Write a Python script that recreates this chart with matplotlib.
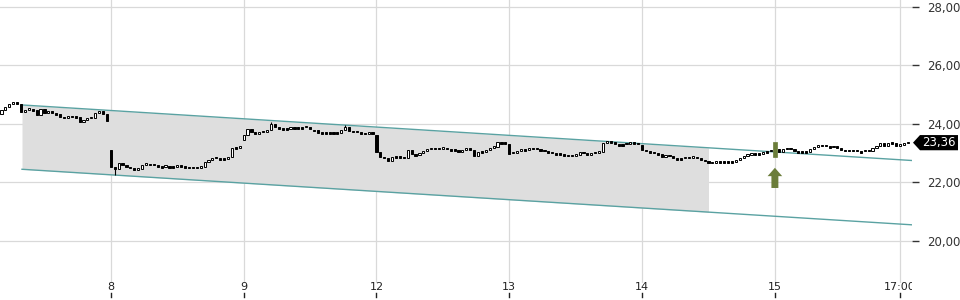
import matplotlib
matplotlib.use("Agg")
import matplotlib.pyplot as plt
from matplotlib.patches import Rectangle, Polygon
from matplotlib.transforms import blended_transform_factory, Bbox, TransformedBbox

# 15-minute candles, closes per trading day (day 7 is partial)
day7 = [24.48, 24.58, 24.68, 24.75, 24.68, 24.41, 24.48, 24.51, 24.48, 24.31,
        24.51, 24.38, 24.44, 24.38, 24.34, 24.24, 24.21, 24.27, 24.26, 24.24,
        24.07, 24.14, 24.17, 24.21, 24.38, 24.44, 24.34, 24.10]
day8 = [22.53, 22.46, 22.67, 22.60, 22.53, 22.50, 22.43, 22.46, 22.60, 22.63,
        22.62, 22.60, 22.53, 22.53, 22.56, 22.53, 22.53, 22.56, 22.56, 22.53,
        22.50, 22.50, 22.50, 22.53, 22.70, 22.77, 22.84, 22.84, 22.80, 22.80,
        22.87, 23.18, 23.18, 23.21]
day9 = [23.62, 23.83, 23.73, 23.66, 23.73, 23.73, 23.79, 24.00, 23.90, 23.86,
        23.83, 23.83, 23.86, 23.86, 23.86, 23.86, 23.90, 23.83, 23.79, 23.69,
        23.69, 23.69, 23.69, 23.69, 23.69, 23.79, 23.90, 23.76, 23.73, 23.73,
        23.69, 23.66, 23.69, 23.69]
day12 = [23.04, 22.87, 22.84, 22.74, 22.87, 22.87, 22.87, 22.84, 23.11, 22.97,
         22.94, 23.01, 23.08, 23.11, 23.15, 23.15, 23.15, 23.18, 23.15, 23.11,
         23.11, 23.04, 23.11, 23.18, 23.11, 22.91, 23.04, 23.04, 23.11, 23.18,
         23.21, 23.38, 23.35, 23.35]
day13 = [22.97, 23.01, 23.08, 23.11, 23.11, 23.18, 23.15, 23.15, 23.11, 23.08,
         23.01, 23.01, 22.97, 22.97, 22.94, 22.91, 22.91, 22.94, 23.04, 23.01,
         22.94, 23.01, 23.01, 23.04, 23.35, 23.38, 23.38, 23.32, 23.28, 23.28,
         23.32, 23.35, 23.35, 23.32]
day14 = [23.11, 23.08, 23.04, 23.01, 22.97, 22.87, 22.94, 22.91, 22.84, 22.80,
         22.80, 22.84, 22.84, 22.87, 22.84, 22.77, 22.74, 22.67, 22.67, 22.70,
         22.70, 22.70, 22.70, 22.70, 22.77, 22.84, 22.91, 22.94, 22.97, 22.97,
         22.97, 23.04, 23.04, 23.08]
day15 = [23.15, 23.04, 23.15, 23.15, 23.15, 23.08, 23.04, 23.04, 23.04, 23.15,
         23.21, 23.28, 23.25, 23.25, 23.21, 23.23, 23.18, 23.11, 23.08, 23.08,
         23.08, 23.08, 23.04, 23.08, 23.08, 23.18, 23.25, 23.35, 23.25, 23.35,
         23.35, 23.25, 23.28, 23.35, 23.36]
days = [day7, day8, day9, day12, day13, day14, day15]
day_opens = [24.34, 23.11, 23.45, 23.62, 23.32, 23.28, 23.08]
day_labels = ["", "8", "9", "12", "13", "14", "15"]

# a few visible wicks (global candle index)
wick_idx = [29, 69, 88, 198]
wick_high = [22.53, 24.07, 23.97, 23.38]
wick_low = [22.26, 23.83, 23.79, 22.87]

signal_idx = 198          # highlighted candle + arrow
signal_arrow = (22.50, 21.81)

# trend channel
channel_x = [5.25, 233.1]
channel_upper = [24.65, 22.75]
channel_lower = [22.45, 20.55]
shade_x = [5.25, 181.0]
shade_top = [24.65, 23.18]
shade_bottom = [22.45, 20.98]

yticks = [20, 22, 24, 26, 28]
last_price = 23.36

olive = "#6b7d3a"
teal = "#5aa2a2"

opens, closes, starts = [], [], []
for d, o in zip(days, day_opens):
    starts.append(len(closes))
    prev = o
    for c in d:
        opens.append(prev)
        closes.append(c)
        prev = c
extra_ticks = [starts[-1] + 32]  # 17:00 on the last day

fig = plt.figure(figsize=(9.6, 3.0), dpi=100)
ax = fig.add_axes([0, 17 / 300, 912 / 960, 283 / 300])
ax.set_xlim(-0.38, 233.1)
ax.set_ylim(18.56, 28.24)
for s in ax.spines.values():
    s.set_visible(False)

grid_x = starts[1:] + extra_ticks
for gx in grid_x:
    ax.axvline(gx, color="#d9d9d9", lw=0.9, zorder=0)
for gy in yticks:
    ax.axhline(gy, color="#d9d9d9", lw=0.9, zorder=0)

ax.fill_between(shade_x, shade_bottom, shade_top, color="#dedede", lw=0, zorder=1)
ax.plot(channel_x, channel_upper, color=teal, lw=1, zorder=2)
ax.plot(channel_x, channel_lower, color=teal, lw=1, zorder=2)

w = 0.55
for i, (o, c) in enumerate(zip(opens, closes)):
    if i == signal_idx:
        k = wick_idx.index(i)
        ax.add_patch(Rectangle((i - 0.55, wick_low[k]), 1.1, wick_high[k] - wick_low[k],
                               facecolor=olive, edgecolor=olive, lw=0.5, zorder=4))
        continue
    if i in wick_idx:
        k = wick_idx.index(i)
        ax.vlines(i, wick_low[k], wick_high[k], color="black", lw=0.8, zorder=3)
    up = c > o
    if abs(c - o) < 0.05:
        bottom, height = c - 0.02, 0.04
    else:
        bottom, height = min(o, c), abs(c - o)
    ax.add_patch(Rectangle((i - w / 2, bottom), w, height,
                           facecolor="white" if up else "black",
                           edgecolor="black", lw=0.7, zorder=3))

ax.annotate("", xy=(signal_idx, signal_arrow[0]), xytext=(signal_idx, signal_arrow[1]),
            arrowprops=dict(arrowstyle="simple,head_length=6,head_width=10.5,tail_width=5",
                            mutation_scale=1, color=olive, lw=0, shrinkA=0, shrinkB=0),
            zorder=5)

# y axis on the right
ax.yaxis.tick_right()
ax.set_yticks(yticks)
ax.set_yticklabels([f"{v:.2f}".replace(".", ",") for v in yticks])
ax.tick_params(axis="y", length=5, width=1, color="#333333", pad=6,
               labelsize=8.5, labelcolor="#333333")
ax.set_xticks([])

# x labels below, tick marks under labels, clipped at plot edge
tr = blended_transform_factory(ax.transData, fig.transFigure)
clip = TransformedBbox(Bbox.from_bounds(0, 0, 912 / 960, 1), fig.transFigure)
x_labels = day_labels[1:] + ["17:00"]
for gx, lab in zip(grid_x, x_labels):
    t = ax.text(gx, 13 / 300, lab, transform=tr, ha="center", va="center",
                fontsize=8, color="#222222")
    t.set_clip_box(clip)
    t.set_clip_on(True)
    ax.plot([gx, gx], [3 / 300, 7 / 300], transform=tr, color="#222222",
            lw=1, clip_on=False)

# last price tag
tt = blended_transform_factory(fig.transFigure, ax.transData)
hh = 0.26
tag = Polygon([(913 / 960, last_price), (920 / 960, last_price + hh),
               (958 / 960, last_price + hh), (958 / 960, last_price - hh),
               (920 / 960, last_price - hh)], closed=True, transform=tt,
              facecolor="black", edgecolor="none", clip_on=False, zorder=6)
ax.add_patch(tag)
ax.text(939 / 960, last_price, f"{last_price:.2f}".replace(".", ","), transform=tt,
        ha="center", va="center", color="white", fontsize=8.5, zorder=7, clip_on=False)

fig.savefig("out.png", dpi=100)
